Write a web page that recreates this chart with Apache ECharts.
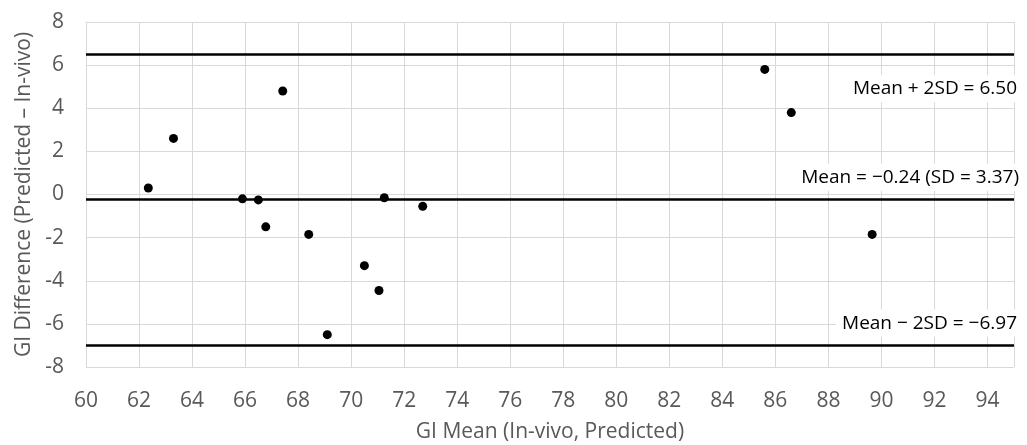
<!DOCTYPE html>
<html>
<head>
<meta charset="utf-8">
<script src="https://cdn.jsdelivr.net/npm/echarts@6/dist/echarts.min.js"></script>
<style>html,body{margin:0;padding:0;background:#fff}#c{width:1027px;height:445px}</style>
</head>
<body>
<div id="c"></div>
<script>
// Bland-Altman data: x = GI mean, y = GI difference
const giMean = [62.35, 63.3, 65.9, 66.5, 66.78, 67.42, 68.4, 69.1, 70.5, 71.05, 71.25, 72.7, 85.6, 86.6, 89.65];
const giDiff = [0.3, 2.6, -0.2, -0.25, -1.5, 4.8, -1.85, -6.5, -3.3, -4.45, -0.15, -0.55, 5.8, 3.8, -1.85];
const meanDiff = -0.24;
const upperLoA = 6.50;
const lowerLoA = -6.97;
const sdDiff = 3.37;
const xTitle = 'GI Mean (In-vivo, Predicted)';
const yTitle = 'GI Difference (Predicted \u2013 In-vivo)';

const points = giMean.map((x, i) => [x, giDiff[i]]);
const fontFam = '"Open Sans", sans-serif';
const labelBase = {
  show: true, color: '#000', fontFamily: fontFam, fontSize: 19,
  backgroundColor: '#fff', padding: [4, 6]
};

const chart = echarts.init(document.getElementById('c'), null, {renderer: 'canvas'});
chart.setOption({
  animation: false,
  grid: {left: 86, right: 13, top: 22, bottom: 78, containLabel: false, outerBoundsMode: 'none'},
  xAxis: {
    type: 'value', min: 60, max: 95, interval: 2,
    name: xTitle, nameLocation: 'middle', nameGap: 55,
    nameTextStyle: {color: '#595959', fontSize: 21, fontFamily: fontFam},
    axisLine: {show: false}, axisTick: {show: false},
    axisLabel: {color: '#595959', fontSize: 21, fontFamily: fontFam, margin: 24, showMaxLabel: false},
    splitLine: {show: true, lineStyle: {color: '#d9d9d9', width: 1}}
  },
  yAxis: {
    type: 'value', min: -8, max: 8, interval: 2,
    name: yTitle, nameLocation: 'middle', nameGap: 48,
    nameTextStyle: {color: '#595959', fontSize: 21, fontFamily: fontFam},
    axisLine: {show: false}, axisTick: {show: false},
    axisLabel: {color: '#595959', fontSize: 21, fontFamily: fontFam, margin: 22},
    splitLine: {show: true, lineStyle: {color: '#d9d9d9', width: 1}}
  },
  series: [{
    type: 'scatter',
    data: points,
    symbolSize: 9,
    itemStyle: {color: '#000', opacity: 1},
    z: 5,
    markLine: {
      silent: true, symbol: 'none',
      lineStyle: {color: '#000', width: 2.5, type: 'solid'},
      data: [
        {yAxis: upperLoA, label: Object.assign({}, labelBase, {
          position: 'insideEndBottom', distance: [-9, 21],
          formatter: 'Mean + 2SD = ' + upperLoA.toFixed(2)})},
        {yAxis: meanDiff, label: Object.assign({}, labelBase, {
          position: 'insideEndTop', distance: [-11, 9],
          formatter: 'Mean = \u2212' + Math.abs(meanDiff).toFixed(2) + ' (SD = ' + sdDiff.toFixed(2) + ')'})},
        {yAxis: lowerLoA, label: Object.assign({}, labelBase, {
          position: 'insideEndTop', distance: [-9, 8],
          formatter: 'Mean \u2212 2SD = \u2212' + Math.abs(lowerLoA).toFixed(2)})}
      ]
    }
  }]
});
</script>
</body>
</html>
